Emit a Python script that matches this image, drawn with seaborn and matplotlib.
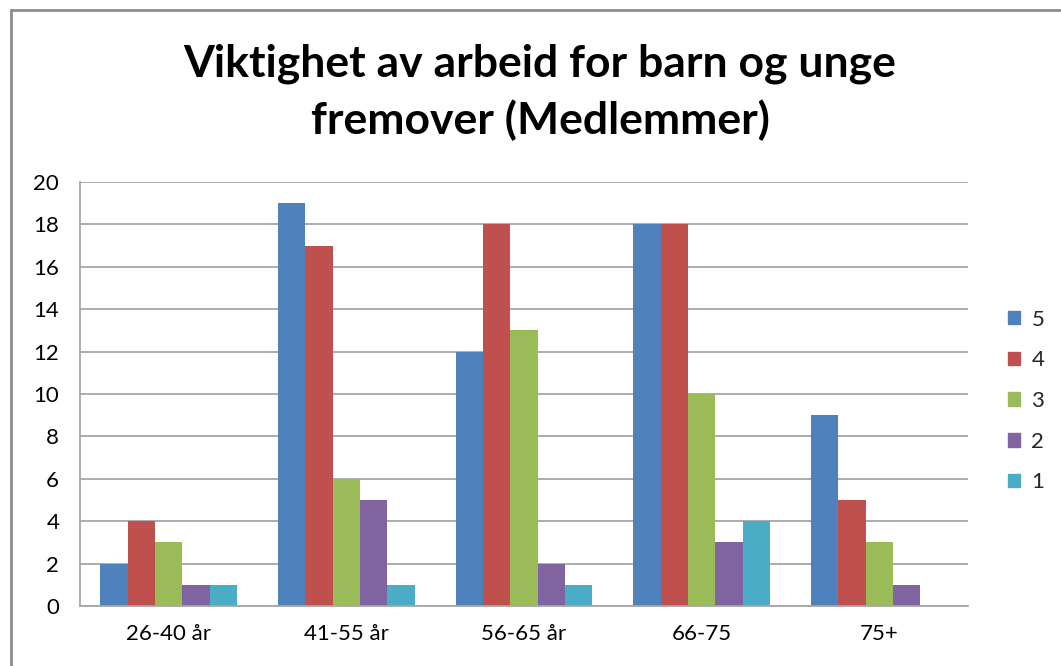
import pandas as pd
import matplotlib
matplotlib.use('Agg')
import matplotlib.pyplot as plt
import matplotlib.patches as mpatches
import seaborn as sns

# chart data
age_groups = ['26-40 år', '41-55 år', '56-65 år', '66-75', '75+']
scores = ['5', '4', '3', '2', '1']
score_5 = [2, 19, 12, 18, 9]
score_4 = [4, 17, 18, 18, 5]
score_3 = [3, 6, 13, 10, 3]
score_2 = [1, 5, 2, 3, 1]
score_1 = [1, 1, 1, 4, 0]
colors = ['#4F81BD', '#C0504D', '#9BBB59', '#8064A2', '#4BACC6']

df = pd.DataFrame({
    'group': age_groups * 5,
    'score': [s for s in scores for _ in age_groups],
    'count': score_5 + score_4 + score_3 + score_2 + score_1,
})

sns.set_style('white')
plt.rcParams['font.family'] = ['Lato', 'DejaVu Sans']

fig = plt.figure(figsize=(10.61, 6.66), dpi=100)
ax = fig.add_axes([80 / 1061, 1 - 606 / 666, 888 / 1061, 424 / 666])

sns.barplot(data=df, x='group', y='count', hue='score', hue_order=scores,
            palette=colors, saturation=1, width=5 / 6.5, linewidth=0,
            ax=ax, legend=False)

ax.set_ylim(0, 20)
ax.set_yticks(range(0, 21, 2))
ax.set_xlim(-0.5, 4.5)
ax.yaxis.grid(True, color='#A6A6A6', linewidth=1.3)
ax.set_axisbelow(True)
ax.set_xlabel('')
ax.set_ylabel('')
ax.tick_params(axis='both', length=0, labelsize=16, colors='#000000')
ax.tick_params(axis='y', pad=15)
ax.tick_params(axis='x', pad=13)
for side in ['top', 'right']:
    ax.spines[side].set_visible(False)
for side in ['left', 'bottom']:
    ax.spines[side].set_color('#A6A6A6')
    ax.spines[side].set_linewidth(1.3)

handles = [mpatches.Patch(color=c, label=s) for c, s in zip(colors, scores)]
fig.legend(handles=handles, loc='center left', bbox_to_anchor=(1008 / 1061, 1 - 401 / 666),
           frameon=False, fontsize=16, handlelength=0.55, handleheight=0.55,
           handletextpad=0.5, labelspacing=0.93, borderpad=0, borderaxespad=0)

fig.text(540 / 1061, 1 - 92 / 666, 'Viktighet av arbeid for barn og unge\nfremover (Medlemmer)',
         ha='center', va='center', fontsize=32, fontweight='bold', linespacing=1.45,
         color='#000000')

# outer chart border (top and left edges visible)
fig.add_artist(plt.Line2D([11 / 1061, 11 / 1061], [0, 1 - 10 / 666], transform=fig.transFigure,
                          color='#8C8C8C', linewidth=2))
fig.add_artist(plt.Line2D([11 / 1061, 1], [1 - 10 / 666, 1 - 10 / 666], transform=fig.transFigure,
                          color='#8C8C8C', linewidth=2))

fig.savefig('out.png', dpi=100)
